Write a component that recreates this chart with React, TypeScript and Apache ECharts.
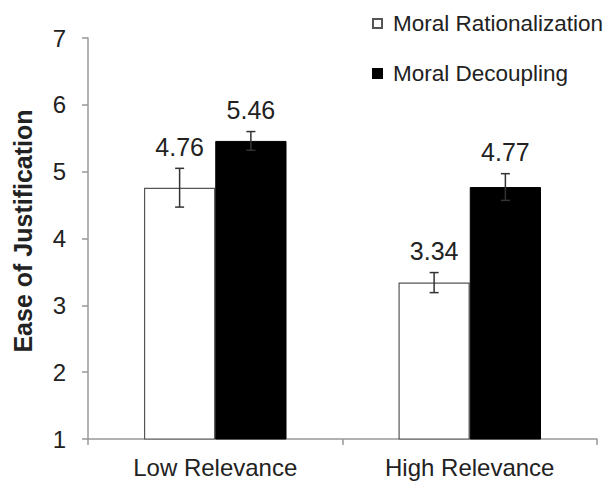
import React, { useEffect, useRef } from "react";
import * as echarts from "echarts";

const categories = ["Low Relevance", "High Relevance"];
const seriesNames = ["Moral Rationalization", "Moral Decoupling"];
const rationalization = [4.76, 3.34];
const decoupling = [5.46, 4.77];
const rationalizationErr = [0.29, 0.15];
const decouplingErr = [0.14, 0.2];
const yTicks = [1, 2, 3, 4, 5, 6, 7];
const yTitle = "Ease of Justification";

const FONT = "'Liberation Sans', Arial, sans-serif";

function errorSeries(values: number[], errs: number[], side: number) {
  return {
    type: "custom",
    silent: true,
    z: 10,
    data: values.map((v, i) => [i, v, errs[i]]),
    renderItem: (params: any, api: any) => {
      const idx = api.value(0);
      const val = api.value(1);
      const err = api.value(2);
      const band = api.size([1, 0])[0];
      const off = band * 0.14 * side;
      const c = api.coord([idx, val]);
      const x = c[0] + off;
      const top = api.coord([idx, val + err])[1];
      const bot = api.coord([idx, val - err])[1];
      const cap = 4.5;
      const st = { stroke: "#333", lineWidth: 1.5 };
      return {
        type: "group",
        children: [
          { type: "line", shape: { x1: x, y1: top, x2: x, y2: bot }, style: st },
          { type: "line", shape: { x1: x - cap, y1: top, x2: x + cap, y2: top }, style: st },
          { type: "line", shape: { x1: x - cap, y1: bot, x2: x + cap, y2: bot }, style: st },
          {
            type: "text",
            x: x,
            y: top - 9,
            style: {
              text: val.toFixed(2),
              fontSize: 25,
              fontFamily: FONT,
              fill: "#222",
              align: "center",
              verticalAlign: "bottom",
            },
          },
        ],
      };
    },
  };
}

export default function App() {
  const ref = useRef<HTMLDivElement>(null);
  useEffect(() => {
    if (!ref.current) return;
    const chart = echarts.init(ref.current, undefined, { renderer: "svg" });
    chart.setOption({
      animation: false,
      backgroundColor: "#fff",
      grid: { left: 88, right: 11, top: 38, bottom: 42 },
      legend: {
        orient: "vertical",
        left: 372,
        top: 12,
        padding: 0,
        icon: "rect",
        itemWidth: 9,
        itemHeight: 9,
        itemGap: 27,
        data: seriesNames,
        textStyle: { fontSize: 22.5, fontFamily: FONT, color: "#222", padding: [0, 0, 0, 6] },
      },
      graphic: [
        {
          type: "text",
          x: 23,
          y: 231,
          rotation: Math.PI / 2,
          style: {
            text: yTitle,
            fontSize: 25,
            fontWeight: "bold",
            fontFamily: FONT,
            fill: "#222",
            align: "center",
            verticalAlign: "middle",
          },
        },
      ],
      xAxis: {
        type: "category",
        data: categories,
        axisLine: { lineStyle: { color: "#999", width: 1.5 } },
        axisTick: { show: true, length: 6, lineStyle: { color: "#999", width: 1.5 } },
        axisLabel: { fontSize: 24, fontFamily: FONT, color: "#222", margin: 16 },
      },
      yAxis: {
        type: "value",
        min: 1,
        max: 7,
        interval: 1,
        axisLine: { show: true, lineStyle: { color: "#999", width: 1.5 } },
        axisTick: { show: true, length: 6, lineStyle: { color: "#999", width: 1.5 } },
        splitLine: { show: false },
        axisLabel: {
          fontSize: 24,
          fontFamily: FONT,
          color: "#222",
          margin: 22,
          formatter: (v: number) => (yTicks.includes(v) ? String(v) : ""),
        },
      },
      series: [
        {
          name: seriesNames[0],
          type: "bar",
          data: rationalization,
          barWidth: "28%",
          barGap: "0%",
          itemStyle: { color: "#fff", borderColor: "#555", borderWidth: 1.2 },
        },
        {
          name: seriesNames[1],
          type: "bar",
          data: decoupling,
          barWidth: "28%",
          barGap: "0%",
          itemStyle: { color: "#000", borderColor: "#000", borderWidth: 1 },
        },
        errorSeries(rationalization, rationalizationErr, -1),
        errorSeries(decoupling, decouplingErr, 1),
      ],
    });
    return () => chart.dispose();
  }, []);
  return (
    <div
      ref={ref}
      style={{ position: "fixed", left: 0, top: 0, width: 608, height: 481 }}
    />
  );
}
